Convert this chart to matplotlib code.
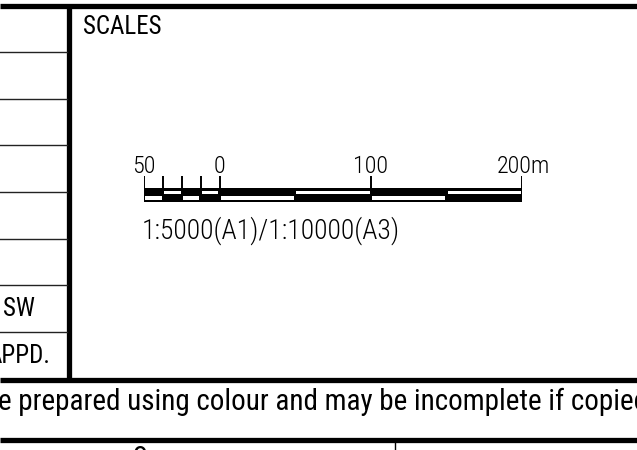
import matplotlib.pyplot as plt
from matplotlib.patches import Rectangle

# title block rows (left column), top to bottom
row_labels = ["", "", "", "", "", "", "SW", "APPD."]
# scale bar in metres
major_ticks = [-50, 0, 100, 200]
major_labels = ["50", "0", "100", "200m"]
minor_ticks = [-37.5, -25, -12.5]
# segment edges and which row (top=1 / bottom=0) is black
seg_edges = [-50, -37.5, -25, -12.5, 0, 50, 100, 150, 200]
seg_top_black = [1, 0, 1, 0, 1, 0, 1, 0]
scale_text = "1:5000(A1)/1:10000(A3)"
note_text = "e prepared using colour and may be incomplete if copied"

narrow = ["Roboto Condensed", "Archivo Narrow", "DejaVu Sans"]

fig = plt.figure(figsize=(6.37, 4.5), dpi=100)
ax = fig.add_axes([0, 0, 1, 1])
ax.set_xlim(0, 637)
ax.set_ylim(450, 0)
ax.axis("off")

thick = 3.8
thin = 1.0

# frame lines
ax.plot([0, 637], [5.5, 5.5], color="black", lw=thick, solid_capstyle="butt")
ax.plot([69, 69], [5.5, 380], color="black", lw=thick, solid_capstyle="butt")
ax.plot([0, 637], [380, 380], color="black", lw=thick, solid_capstyle="butt")
ax.plot([0, 637], [440, 440], color="black", lw=thick, solid_capstyle="butt")
ax.plot([395, 395], [442, 450], color="black", lw=thin)

# left column rows
row_h = 46.6
for i, lab in enumerate(row_labels):
    y0 = 5.5 + row_h * (i + 1)
    if i < len(row_labels) - 1:
        ax.plot([0, 67], [y0, y0], color="#222222", lw=thin)
    if lab:
        ax.text(3 if lab == "SW" else -12, y0 - row_h / 2 + 1, lab, fontsize=18,
                family=narrow, va="center", ha="left")

ax.text(83, 27.5, "SCALES", fontsize=18, family=narrow, va="center", ha="left")
ax.text(-2, 402, note_text, fontsize=21, family=narrow, va="center", ha="left")
ax.text(140, 462, "o", fontsize=21, family=narrow, va="baseline", ha="center")

# scale bar axes: x in metres, y in pixels above the bar bottom
sb = fig.add_axes([144 / 637, 1 - 202 / 450, (522 - 144) / 637, 40 / 450])
sb.set_xlim(-50, 200)
sb.set_ylim(0, 40)
sb.axis("off")
h = 14
sb.add_patch(Rectangle((-50, 0), 250, h, facecolor="black", edgecolor="none"))
for (a, b), tb in zip(zip(seg_edges[:-1], seg_edges[1:]), seg_top_black):
    y = 2 if tb else 7.8
    sb.add_patch(Rectangle((a + 0.8, y), b - a - 1.6, 3.7,
                           facecolor="white", edgecolor="none"))
for t in major_ticks + minor_ticks:
    sb.plot([t, t], [h, 26.5], color="black", lw=1.4, solid_capstyle="butt")
for t, lab in zip(major_ticks, major_labels):
    ha = "center"
    x = t
    if lab.endswith("m"):
        ha = "left"
        x = t - 16.5
    sb.text(x, 29, lab, fontsize=17.4, family=narrow, fontweight="light",
            ha=ha, va="baseline", clip_on=False)

ax.text(142, 231, scale_text, fontsize=19.9, family=narrow, fontweight="light",
        va="center", ha="left")

fig.savefig("out.png", dpi=100)
